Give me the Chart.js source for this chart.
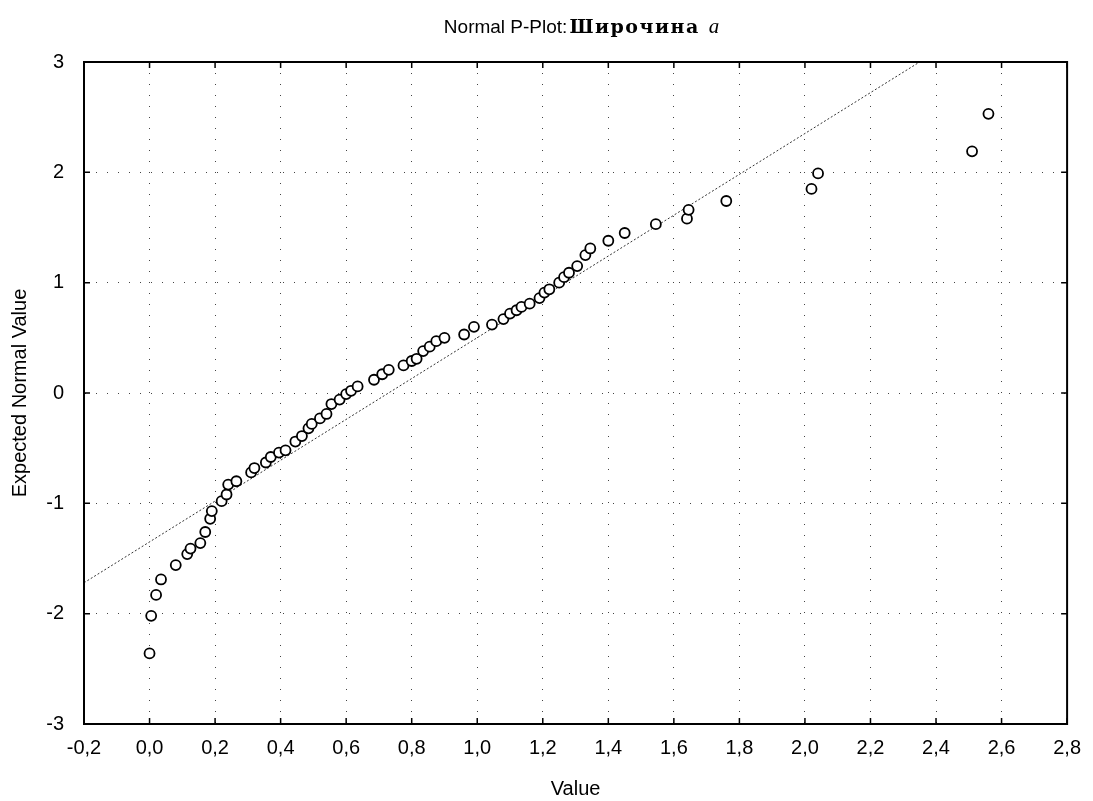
<!DOCTYPE html>
<html>
<head>
<meta charset="utf-8">
<script src="https://cdn.jsdelivr.net/npm/chart.js@4.4.1/dist/chart.umd.min.js"></script>
<style>
  html, body { margin: 0; padding: 0; background: #ffffff; }
  #wrap { width: 1093px; height: 801px; position: relative; }
  canvas { display: block; }
</style>
</head>
<body>
<div id="wrap"><canvas id="chart" width="1093" height="801"></canvas></div>
<script>
// ---- data ----
const titleParts = ['Normal P-Plot:', 'Широчина', 'a'];
const xAxisTitle = 'Value';
const yAxisTitle = 'Expected Normal Value';

const xTickLabels = ['-0,2', '0,0', '0,2', '0,4', '0,6', '0,8', '1,0', '1,2', '1,4', '1,6', '1,8', '2,0', '2,2', '2,4', '2,6', '2,8'];
const yTickLabels = ['-3', '-2', '-1', '0', '1', '2', '3'];

const xValues = [0.0, 0.005, 0.02, 0.035, 0.08, 0.115, 0.125, 0.155, 0.17, 0.185,
  0.19, 0.22, 0.235, 0.24, 0.265, 0.31, 0.32, 0.355, 0.37, 0.395,
  0.415, 0.445, 0.465, 0.485, 0.495, 0.52, 0.54, 0.555, 0.58, 0.60,
  0.615, 0.635, 0.685, 0.71, 0.73, 0.775, 0.80, 0.815, 0.835, 0.855,
  0.875, 0.90, 0.96, 0.99, 1.045, 1.08, 1.10, 1.12, 1.135, 1.16,
  1.19, 1.205, 1.22, 1.25, 1.265, 1.28, 1.305, 1.33, 1.345, 1.40,
  1.45, 1.545, 1.64, 1.645, 1.76, 2.02, 2.04, 2.51, 2.56];

const yValues = [-2.36, -2.02, -1.83, -1.69, -1.56, -1.46, -1.41, -1.36, -1.26, -1.14,
  -1.07, -0.98, -0.92, -0.83, -0.80, -0.72, -0.68, -0.63, -0.58, -0.54,
  -0.52, -0.44, -0.39, -0.32, -0.28, -0.23, -0.19, -0.10, -0.06, -0.01,
  0.02, 0.06, 0.12, 0.17, 0.21, 0.25, 0.29, 0.31, 0.38, 0.42,
  0.47, 0.50, 0.53, 0.60, 0.62, 0.67, 0.72, 0.75, 0.78, 0.81,
  0.86, 0.91, 0.94, 1.00, 1.05, 1.09, 1.15, 1.25, 1.31, 1.38,
  1.45, 1.53, 1.58, 1.66, 1.74, 1.85, 1.99, 2.19, 2.53];

// fitted reference line (end points)
const lineX = [-0.2, 2.35];
const lineY = [-1.72, 3.0];

// ---- build library structures ----
const points = xValues.map((x, i) => ({ x: x, y: yValues[i] }));
const linePoints = lineX.map((x, i) => ({ x: x, y: lineY[i] }));

const sansFamily = '"Liberation Sans", Arial, sans-serif';

const framePlugin = {
  id: 'frameAndTitle',
  afterDraw(chart) {
    const ctx = chart.ctx;
    const a = chart.chartArea;
    const xs = chart.scales.x, ys = chart.scales.y;
    ctx.save();
    // full frame
    ctx.strokeStyle = '#000';
    ctx.lineWidth = 2;
    ctx.setLineDash([]);
    ctx.strokeRect(a.left, a.top, a.right - a.left, a.bottom - a.top);
    // inward tick marks on all four sides
    ctx.lineWidth = 1.5;
    ctx.beginPath();
    xs.ticks.forEach(t => {
      const px = xs.getPixelForValue(t.value);
      ctx.moveTo(px, a.top); ctx.lineTo(px, a.top + 6);
      ctx.moveTo(px, a.bottom); ctx.lineTo(px, a.bottom - 6);
    });
    ys.ticks.forEach(t => {
      const py = ys.getPixelForValue(t.value);
      ctx.moveTo(a.left, py); ctx.lineTo(a.left + 6, py);
      ctx.moveTo(a.right, py); ctx.lineTo(a.right - 6, py);
    });
    ctx.stroke();

    // title with mixed fonts (real text)
    const f1 = '19px ' + sansFamily;
    const f2 = 'bold 19px "DejaVu Serif", "Liberation Serif", serif';
    const f3 = 'italic 21px "Liberation Serif", "DejaVu Serif", serif';
    ctx.fillStyle = '#000';
    ctx.textBaseline = 'alphabetic';
    ctx.textAlign = 'left';
    ctx.font = f1;
    const w1 = ctx.measureText(titleParts[0]).width;
    ctx.font = f2;
    ctx.letterSpacing = '1.5px';
    const w2 = ctx.measureText(titleParts[1]).width;
    ctx.letterSpacing = '0px';
    ctx.font = f3;
    const w3 = ctx.measureText(titleParts[2]).width;
    const gap1 = 2, gap2 = 9;
    const total = w1 + gap1 + w2 + gap2 + w3;
    const cx = (a.left + a.right) / 2 + 6;
    let x = cx - total / 2;
    const base = 33;
    ctx.font = f1; ctx.fillText(titleParts[0], x, base); x += w1 + gap1;
    ctx.font = f2; ctx.letterSpacing = '1.5px'; ctx.fillText(titleParts[1], x, base); ctx.letterSpacing = '0px'; x += w2 + gap2;
    ctx.font = f3; ctx.fillText(titleParts[2], x, base);
    ctx.restore();
  }
};

new Chart(document.getElementById('chart'), {
  type: 'scatter',
  data: {
    datasets: [
      {
        label: 'Observed',
        data: points,
        showLine: false,
        pointStyle: 'circle',
        pointRadius: 5,
        pointHoverRadius: 5,
        pointBorderWidth: 1.8,
        pointBorderColor: '#000',
        pointBackgroundColor: '#fff',
        order: 1
      },
      {
        label: 'Fit',
        type: 'line',
        data: linePoints,
        showLine: true,
        pointRadius: 0,
        borderColor: '#333',
        borderWidth: 1,
        borderDash: [2, 2],
        fill: false,
        order: 2
      }
    ]
  },
  options: {
    responsive: false,
    animation: false,
    devicePixelRatio: 1,
    layout: { padding: { top: 62, right: 25, left: 0, bottom: 0 } },
    plugins: {
      legend: { display: false },
      title: { display: false },
      tooltip: { enabled: false }
    },
    scales: {
      x: {
        type: 'linear',
        min: -0.2,
        max: 2.8,
        afterFit(scale) { scale.height = 77; },
        ticks: {
          stepSize: 0.2,
          autoSkip: false,
          maxRotation: 0,
          padding: 12,
          color: '#000',
          font: { family: sansFamily, size: 20 },
          callback: (v, i) => xTickLabels[i]
        },
        grid: { color: '#444', lineWidth: 1, drawTicks: false },
        border: { display: true, color: '#000', width: 2, dash: [1, 10] },
        title: {
          display: true,
          text: xAxisTitle,
          color: '#000',
          font: { family: sansFamily, size: 20 },
          padding: { top: 0, bottom: 0 }
        }
      },
      y: {
        type: 'linear',
        min: -3,
        max: 3,
        afterFit(scale) { scale.width = 84; },
        ticks: {
          stepSize: 1,
          padding: 20,
          color: '#000',
          font: { family: sansFamily, size: 20 },
          callback: (v, i) => yTickLabels[i]
        },
        grid: { color: '#444', lineWidth: 1, drawTicks: false },
        border: { display: true, color: '#000', width: 2, dash: [1, 10] },
        title: {
          display: true,
          text: yAxisTitle,
          color: '#000',
          font: { family: sansFamily, size: 20 },
          padding: { top: 8, bottom: 0 }
        }
      }
    }
  },
  plugins: [framePlugin]
});
</script>
</body>
</html>
